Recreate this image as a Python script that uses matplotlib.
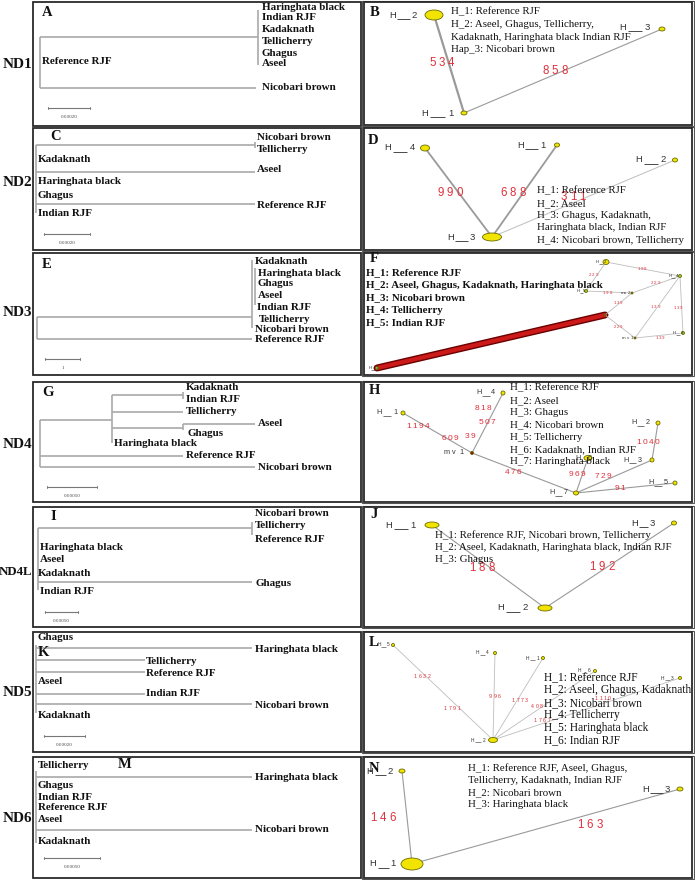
import matplotlib
matplotlib.use("Agg")
import matplotlib.pyplot as plt
from matplotlib.patches import Ellipse, Rectangle

SERIF = ["Liberation Serif", "DejaVu Serif"]
SANS = ["Liberation Sans", "DejaVu Sans"]

# ---------------- layout data (pixel positions) ----------------
left_frames = [(33, 2, 361, 126), (33, 128, 361, 250), (33, 253, 361, 375), (33, 382, 361, 502),
               (33, 507, 361, 627), (33, 632, 361, 752), (33, 757, 361, 878)]
right_frames = [(364, 2, 692, 125), (364, 128, 692, 250), (364, 253, 692, 375), (364, 382, 692, 502),
                (364, 507, 692, 627), (364, 632, 692, 752), (364, 757, 692, 878)]
row_names = ["ND1", "ND2", "ND3", "ND4", "ND4L", "ND5", "ND6"]
row_name_y = [64, 182, 313, 445, 572, 693, 818]
row_name_size = [11, 11, 11, 11, 9.3, 11, 11]
panel_letters = ["A", "B", "C", "D", "E", "F", "G", "H", "I", "J", "K", "L", "M", "N"]
panel_letter_xy = [(42, 12), (370, 13), (50, 137), (368, 140), (42, 265), (370, 259), (42, 392),
                   (369, 390), (50, 517), (370, 515), (38, 652), (369, 643), (118, 765), (369, 768)]

# ---------------- trees: horizontal branches (y, x0, x1), vertical (x, y0, y1), tips ----------------
A_h = [(37, 40, 258), (88, 40, 256)]
A_v = [(40, 37, 88), (258, 10, 65)]
A_taxa = ["Haringhata black", "Indian RJF", "Kadaknath", "Tellicherry", "Ghagus", "Aseel",
          "Nicobari brown", "Reference RJF"]
A_xy = [(262, 7), (262, 17), (262, 29), (262, 41), (262, 53), (262, 63), (262, 88), (42, 62)]
A_scale = (48, 90, 108, "0.00020")

C_h = [(145, 36, 255), (172, 36, 255), (204, 36, 255)]
C_v = [(36, 145, 213), (255, 142, 148)]
C_taxa = ["Nicobari brown", "Tellicherry", "Aseel", "Reference RJF", "Kadaknath", "Haringhata black",
          "Ghagus", "Indian RJF"]
C_xy = [(257, 138), (257, 150), (257, 170), (257, 205), (38, 159), (38, 182), (38, 195), (38, 213)]
C_scale = (44, 90, 234, "0.00020")

E_h = [(317, 37, 252), (339, 37, 252)]
E_v = [(37, 317, 339), (252, 260, 328), (255, 268, 305)]
E_taxa = ["Kadaknath", "Haringhata black", "Ghagus", "Aseel", "Indian RJF", "Tellicherry",
          "Nicobari brown", "Reference RJF"]
E_xy = [(255, 261), (258, 273), (257, 283), (258, 296), (257, 307), (259, 319), (255, 330), (255, 340)]
E_scale = (45, 80, 359, "1")

G_h = [(420, 40, 112), (395, 112, 183), (412, 112, 183), (428, 112, 183), (424, 183, 255),
       (456, 40, 183), (467, 40, 255)]
G_v = [(40, 420, 467), (112, 395, 443), (183, 392, 399), (183, 424, 430)]
G_taxa = ["Kadaknath", "Indian RJF", "Tellicherry", "Aseel", "Ghagus", "Haringhata black",
          "Reference RJF", "Nicobari brown"]
G_xy = [(186, 388), (186, 400), (186, 412), (258, 424), (187, 433), (114, 443), (186, 456), (258, 468)]
G_scale = (47, 97, 487, "0.00050")

I_h = [(528, 38, 252), (582, 38, 252)]
I_v = [(38, 528, 590), (252, 522, 535)]
I_taxa = ["Nicobari brown", "Tellicherry", "Reference RJF", "Ghagus", "Haringhata black", "Aseel",
          "Kadaknath", "Indian RJF"]
I_xy = [(255, 513), (255, 526), (255, 539), (255, 583), (40, 547), (40, 560), (38, 573), (40, 592)]
I_scale = (45, 78, 612, "0.00050")

K_h = [(648, 36, 252), (660, 36, 145), (672, 36, 145), (694, 36, 145), (704, 36, 252)]
K_v = [(36, 645, 713)]
K_taxa = ["Ghagus", "Haringhata black", "Tellicherry", "Reference RJF", "Aseel", "Indian RJF",
          "Nicobari brown", "Kadaknath"]
K_xy = [(38, 638), (255, 650), (146, 661), (146, 673), (38, 682), (146, 694), (255, 705), (38, 715)]
K_scale = (44, 85, 736, "0.00020")

M_h = [(777, 36, 252), (830, 36, 252)]
M_v = [(36, 771, 843)]
M_taxa = ["Tellicherry", "Haringhata black", "Ghagus", "Indian RJF", "Reference RJF", "Aseel",
          "Nicobari brown", "Kadaknath"]
M_xy = [(38, 765), (255, 777), (38, 786), (38, 797), (38, 808), (38, 819), (255, 830), (38, 841)]
M_scale = (44, 100, 858, "0.00050")

# ---------------- networks ----------------
# nodes: name, centre, ellipse size (w, h), label start x, label step
B_nodes = ["H_1", "H_2", "H_3"]
B_xy = [(464, 113), (434, 15), (662, 29)]
B_size = [(6, 4), (18, 10), (6, 4)]
B_lab = [(418, 113, 13), (387, 15, 11), (617, 27, 12)]
B_edges = [(1, 0, 1.6), (0, 2, 0.8)]
B_elab = ["534", "858"]
B_elab_xy = [(442, 63), (555, 71)]
B_legend = ["H_1: Reference RJF", "H_2: Aseel, Ghagus, Tellicherry,",
            "Kadaknath, Haringhata black Indian RJF", "Hap_3: Nicobari brown"]
B_legend_pos = (451, 12, 12.6)

D_nodes = ["H_1", "H_2", "H_3", "H_4"]
D_xy = [(557, 145), (675, 160), (492, 237), (425, 148)]
D_size = [(5, 4), (5, 4), (19, 8), (9, 6)]
D_lab = [(515, 145, 11), (633, 160, 12), (445, 237, 11), (382, 148, 12)]
D_edges = [(3, 2, 1.3), (0, 2, 1.3), (1, 2, 0.7)]
D_elab = ["990", "688", "311"]
D_elab_xy = [(450, 193), (513, 193), (573, 197)]
D_legend = ["H_1: Reference RJF", "H_2: Aseel", "H_3: Ghagus, Kadaknath,",
            "Haringhata black, Indian RJF", "H_4: Nicobari brown, Tellicherry"]
D_legend_pos = (537, 191, 12.3)

F_nodes = ["H_1", "H_2", "H_3", "H_4", "H_5", "mv1", "mv2", ""]
F_xy = [(377, 368), (606, 262), (683, 333), (680, 276), (586, 291), (635, 338), (632, 293), (605, 315)]
F_size = [(3, 3), (6, 5), (3, 3), (3, 3), (3, 3), (2, 2), (2, 2), (2, 2)]
F_color = ["#9acd32", "#f0e400", "#9acd32", "#9acd32", "#9acd32", "#802020", "#802020", "#802020"]
F_lab = [(368, 368, 3.5), (595, 262, 4), (672, 333, 4), (668, 276, 3.5), (577, 291, 3),
         (622, 338, 4), (621, 293, 3), (0, 0, 0)]
F_edges = [(1, 3, 0.6), (1, 4, 0.6), (4, 6, 0.6), (6, 3, 0.6), (6, 7, 0.6), (3, 5, 0.6),
           (3, 2, 0.6), (7, 5, 0.6), (5, 2, 0.6)]
F_elab = ["198", "229", "198", "229", "139", "139", "139", "229", "139"]
F_elab_xy = [(642, 269), (593, 275), (607, 293), (655, 283), (618, 303), (655, 307), (678, 308),
             (618, 327), (660, 338)]
F_legend = ["H_1: Reference RJF", "H_2: Aseel, Ghagus, Kadaknath, Haringhata black",
            "H_3: Nicobari brown", "H_4: Tellicherry", "H_5: Indian RJF"]
F_legend_pos = (366, 273, 12.5)

H_nodes = ["H_1", "H_2", "H_3", "H_4", "H_5", "H_6", "H_7", "mv1"]
H_xy = [(403, 413), (658, 423), (652, 460), (503, 393), (675, 483), (588, 458), (576, 493), (472, 453)]
H_size = [(4, 4), (4, 4), (4, 4), (4, 4), (4, 4), (8, 5), (5, 4), (3, 3)]
H_color = ["#f0e400"] * 7 + ["#901010"]
H_lab = [(375, 413, 8), (630, 423, 7), (622, 460, 7), (475, 393, 7.3), (647, 483, 7.5),
         (575, 458, 6), (548, 493, 7), (443, 453, 7.5)]
H_edges = [(0, 7, 0.8), (3, 7, 0.8), (7, 6, 0.8), (5, 6, 0.8), (2, 6, 0.8), (1, 2, 0.8), (6, 4, 0.8)]
H_elab = ["1194", "609", "818", "507", "39", "476", "969", "729", "1040", "91"]
H_elab_xy = [(418, 426), (450, 438), (483, 408), (487, 423), (470, 437), (513, 473), (577, 475),
             (603, 477), (648, 442), (620, 489)]
H_legend = ["H_1: Reference RJF", "H_2: Aseel", "H_3: Ghagus", "H_4: Nicobari brown",
            "H_5: Tellicherry", "H_6: Kadaknath, Indian RJF", "H_7: Haringhata black"]
H_legend_pos = (510, 388, 12.3)

J_nodes = ["H_1", "H_2", "H_3"]
J_xy = [(432, 525), (545, 608), (674, 523)]
J_size = [(14, 6), (14, 6), (5, 4)]
J_lab = [(383, 525, 12), (495, 608, 12), (630, 523, 9)]
J_edges = [(0, 1, 0.8), (2, 1, 0.8)]
J_elab = ["188", "192"]
J_elab_xy = [(482, 568), (602, 567)]
J_legend = ["H_1: Reference RJF, Nicobari brown, Tellicherry",
            "H_2: Aseel, Kadaknath, Haringhata black, Indian RJF", "H_3: Ghagus"]
J_legend_pos = (435, 535, 12.5)

L_nodes = ["H_1", "H_2", "H_3", "H_4", "H_5", "H_6"]
L_xy = [(543, 658), (493, 740), (680, 678), (495, 653), (393, 645), (595, 671)]
L_size = [(3, 3), (9, 5), (3, 3), (3, 3), (3, 3), (3, 3)]
L_lab = [(525, 658, 5), (470, 740, 5.5), (660, 678, 5), (475, 653, 5), (377, 645, 4.5), (577, 671, 5)]
L_edges = [(4, 1, 0.6), (3, 1, 0.6), (0, 1, 0.6), (5, 1, 0.6), (2, 1, 0.6)]
L_elab = ["1632", "1791", "996", "1773", "408", "1767", "1110"]
L_elab_xy = [(422, 677), (452, 708), (495, 697), (520, 700), (537, 706), (542, 720), (603, 698)]
L_legend = ["H_1: Reference RJF", "H_2: Aseel, Ghagus, Kadaknath", "H_3: Nicobari brown",
            "H_4: Tellicherry", "H_5: Haringhata black", "H_6: Indian RJF"]
L_legend_pos = (544, 678, 12.4)

N_nodes = ["H_1", "H_2", "H_3"]
N_xy = [(412, 864), (402, 771), (680, 789)]
N_size = [(22, 12), (6, 4), (6, 4)]
N_lab = [(368, 864, 10), (365, 771, 10), (640, 789, 11)]
N_edges = [(1, 0, 0.8), (2, 0, 0.8)]
N_elab = ["146", "163"]
N_elab_xy = [(383, 818), (590, 825)]
N_legend = ["H_1: Reference RJF, Aseel, Ghagus,", "Tellicherry, Kadaknath, Indian RJF",
            "H_2: Nicobari brown", "H_3: Haringhata black"]
N_legend_pos = (468, 768, 12.3)

# ---------------- drawing ----------------
fig = plt.figure(figsize=(6.95, 8.8), dpi=100)
ax = fig.add_axes([0, 0, 1, 1])
ax.set_xlim(0, 695)
ax.set_ylim(880, 0)
ax.axis("off")

TREE_COL = "#a9a9a9"
EDGE_COL = "#9a9a9a"
RED = "#e0303a"
TXT = "#111111"

for (x0, y0, x1, y1) in left_frames:
    ax.add_patch(Rectangle((x0, y0), x1 - x0, y1 - y0, fill=False, ec="#2a2a2a", lw=1.3))
for (x0, y0, x1, y1) in right_frames:
    ax.add_patch(Rectangle((x0 - 2, y0 - 1), x1 - x0 + 4, y1 - y0 + 2, fill=False, ec="#555555", lw=0.8))
    ax.add_patch(Rectangle((x0, y0), x1 - x0, y1 - y0, fill=False, ec="#2a2a2a", lw=1.3))

for name, y, fs in zip(row_names, row_name_y, row_name_size):
    ax.text(32.5, y, name, ha="right", va="center", family=SERIF, fontweight="bold", fontsize=fs, color=TXT)

for letter, (x, y) in zip(panel_letters, panel_letter_xy):
    ax.text(x, y, letter, ha="left", va="center", family=SERIF, fontweight="bold", fontsize=10.5, color=TXT)


def draw_tree(hl, vl, taxa, xy, scale):
    for (y, x0, x1) in hl:
        ax.plot([x0, x1], [y, y], color=TREE_COL, lw=1.2, solid_capstyle="butt")
    for (x, y0, y1) in vl:
        ax.plot([x, x], [y0, y1], color=TREE_COL, lw=1.2, solid_capstyle="butt")
    for t, (x, y) in zip(taxa, xy):
        ax.text(x, y, t, ha="left", va="center", family=SERIF, fontweight="bold", fontsize=7.9, color=TXT)
    sx0, sx1, sy, st = scale
    ax.plot([sx0, sx1], [sy, sy], color="#777777", lw=0.8)
    ax.plot([sx0, sx0], [sy - 1.2, sy + 1.2], color="#777777", lw=0.6)
    ax.plot([sx1, sx1], [sy - 1.2, sy + 1.2], color="#777777", lw=0.6)
    ax.text((sx0 + sx1) / 2, sy + 9, st, ha="center", va="center", family=SERIF, fontsize=3.6, color="#444444")


draw_tree(A_h, A_v, A_taxa, A_xy, A_scale)
draw_tree(C_h, C_v, C_taxa, C_xy, C_scale)
draw_tree(E_h, E_v, E_taxa, E_xy, E_scale)
draw_tree(G_h, G_v, G_taxa, G_xy, G_scale)
draw_tree(I_h, I_v, I_taxa, I_xy, I_scale)
draw_tree(K_h, K_v, K_taxa, K_xy, K_scale)
draw_tree(M_h, M_v, M_taxa, M_xy, M_scale)


def spaced(x0, y, s, step, size, color, centre=False):
    """Letter-spaced label (network-drawing style); underscores drawn as wide bars."""
    if centre:
        x0 = x0 - step * len(s) / 2
    cap = size * 100 / 72 * 0.72
    for i, ch in enumerate(s):
        cx = x0 + step * (i + 0.5)
        if ch == "_":
            ax.plot([cx - step * 0.55, cx + step * 0.55], [y + cap / 2 + 0.6] * 2, color=color,
                    lw=max(0.4, size / 11), solid_capstyle="butt", zorder=4)
        else:
            ax.text(cx, y, ch, ha="center", va="center", family=SANS, fontsize=size, color=color, zorder=4)


def draw_net(nodes, xy, sizes, labs, edges, elab, elab_xy, legend, legend_pos,
             lab_size, num_size, num_step, colors=None, legend_bold=False, legend_size=7.8):
    for (i, j, lw) in edges:
        ax.plot([xy[i][0], xy[j][0]], [xy[i][1], xy[j][1]], color=EDGE_COL if lw > 0.7 else "#bdbdbd",
                lw=lw, zorder=2)
    for k, (name, (x, y), (w, h), lab) in enumerate(zip(nodes, xy, sizes, labs)):
        fc = colors[k] if colors else "#f0e400"
        ax.add_patch(Ellipse((x, y), w, h, fc=fc, ec="#6b6b00", lw=0.6, zorder=3))
        if name:
            spaced(lab[0], lab[1], name, lab[2], lab_size, "#333333")
    for t, (x, y) in zip(elab, elab_xy):
        spaced(x, y, t, num_step, num_size, RED, centre=True)
    lx, ly, dy = legend_pos
    for k, line in enumerate(legend):
        ax.text(lx, ly + k * dy, line, ha="left", va="center", family=SERIF, fontsize=legend_size,
                fontweight="bold" if legend_bold else "normal", color=TXT, zorder=5)


draw_net(B_nodes, B_xy, B_size, B_lab, B_edges, B_elab, B_elab_xy, B_legend, B_legend_pos,
         6.8, 8.3, 9.5)
draw_net(D_nodes, D_xy, D_size, D_lab, D_edges, D_elab, D_elab_xy, D_legend, D_legend_pos,
         6.8, 8.3, 9.5)

# F: the long thick branch to H_1
ax.plot([F_xy[0][0], F_xy[7][0]], [F_xy[0][1], F_xy[7][1]], color="#6a0000", lw=5, zorder=2,
        solid_capstyle="round")
ax.plot([F_xy[0][0], F_xy[7][0]], [F_xy[0][1], F_xy[7][1]], color="#cc1a1a", lw=3, zorder=2,
        solid_capstyle="round")
draw_net(F_nodes, F_xy, F_size, F_lab, F_edges, F_elab, F_elab_xy, F_legend, F_legend_pos,
         3.2, 3.2, 3.5, colors=F_color, legend_bold=True, legend_size=7.8)
draw_net(H_nodes, H_xy, H_size, H_lab, H_edges, H_elab, H_elab_xy, H_legend, H_legend_pos,
         5.2, 6, 6.3, colors=H_color, legend_size=7.8)
draw_net(J_nodes, J_xy, J_size, J_lab, J_edges, J_elab, J_elab_xy, J_legend, J_legend_pos,
         6.8, 8.3, 9.5)
draw_net(L_nodes, L_xy, L_size, L_lab, L_edges, L_elab, L_elab_xy, L_legend, L_legend_pos,
         3.5, 3.8, 4.5, legend_size=8.3)
draw_net(N_nodes, N_xy, N_size, N_lab, N_edges, N_elab, N_elab_xy, N_legend, N_legend_pos,
         6.8, 8.3, 9.5)

fig.savefig("out.png", dpi=100)
